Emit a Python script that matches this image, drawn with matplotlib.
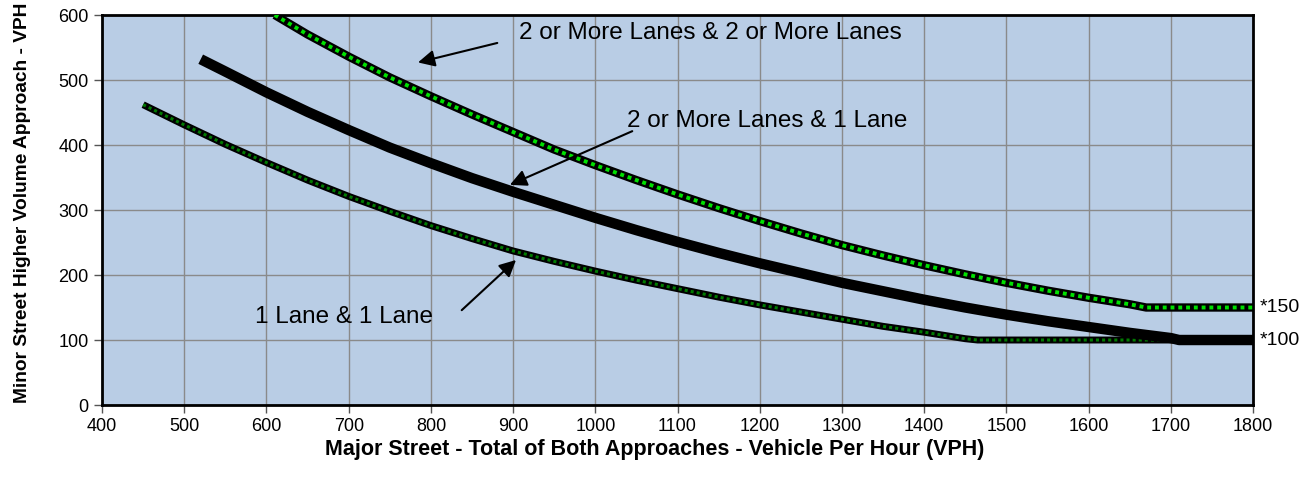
import numpy as np
import matplotlib
matplotlib.use("Agg")
import matplotlib.pyplot as plt

plt.rcParams["font.family"] = ["Liberation Sans", "DejaVu Sans"]

# major street volume (VPH) / minor street volume (VPH)
one_one_x = [450, 500, 550, 600, 650, 700, 750, 800, 850, 900, 950, 1000, 1050, 1100,
             1150, 1200, 1250, 1300, 1350, 1400, 1450, 1465, 1800]
one_one_y = [462, 431, 401, 373, 346, 321, 298, 276, 256, 237, 221, 206, 192, 179,
             166, 154, 143, 132, 121, 112, 102, 100, 100]

two_one_x = [520, 550, 600, 650, 700, 750, 800, 850, 900, 950, 1000, 1050, 1100, 1150,
             1200, 1250, 1300, 1350, 1400, 1450, 1500, 1550, 1600, 1650, 1700, 1710, 1800]
two_one_y = [532, 513, 481, 451, 423, 396, 372, 349, 328, 308, 288, 269, 251, 234,
             218, 203, 188, 175, 162, 150, 139, 129, 120, 111, 103, 100, 100]

two_two_x = [610, 650, 700, 750, 800, 850, 900, 950, 1000, 1050, 1100, 1150, 1200, 1250,
             1300, 1350, 1400, 1450, 1500, 1550, 1600, 1650, 1670, 1800]
two_two_y = [600, 570, 536, 504, 475, 447, 420, 393, 369, 346, 324, 303, 283, 264,
             246, 230, 215, 201, 188, 176, 165, 155, 150, 150]

x_ticks = list(range(400, 1801, 100))
y_ticks = list(range(0, 601, 100))

fig = plt.figure(figsize=(13.15, 4.84), dpi=100)
ax = fig.add_axes([0.0776, 0.1632, 0.8753, 0.8058])
ax.set_facecolor("#B9CDE5")

ax.plot(one_one_x, one_one_y, color="black", lw=5, solid_capstyle="butt", zorder=3)
ax.plot(one_one_x, one_one_y, color="#007A00", lw=2.2, dashes=(1.0, 1.0), zorder=4)

ax.plot(two_one_x, two_one_y, color="black", lw=7.5, solid_capstyle="butt", zorder=5)

ax.plot(two_two_x, two_two_y, color="black", lw=6, solid_capstyle="butt", zorder=6)
ax.plot(two_two_x, two_two_y, color="#00E000", lw=2.8, dashes=(1.0, 1.0), zorder=7)

ax.set_xlim(400, 1800)
ax.set_ylim(0, 600)
ax.set_xticks(x_ticks)
ax.set_yticks(y_ticks)
ax.tick_params(labelsize=13, length=6, width=1, color="#555555", direction="out")
ax.grid(True, color="#8A8A8A", lw=1)
ax.set_axisbelow(True)
for s in ax.spines.values():
    s.set_linewidth(2)
    s.set_color("black")

ax.set_xlabel("Major Street - Total of Both Approaches - Vehicle Per Hour (VPH)",
              fontsize=15.5, fontweight="bold")
ax.xaxis.set_label_coords(0.48, -0.088)
ax.set_ylabel("Minor Street Higher Volume Approach - VPH",
              fontsize=13.8, fontweight="bold")
ax.yaxis.set_label_coords(-0.062, 0.518)

arrow = dict(arrowstyle="-|>", color="black", lw=1.5, mutation_scale=25)
ax.annotate("", xy=(781, 526), xytext=(884, 558), arrowprops=arrow, zorder=10)
ax.text(907, 563, "2 or More Lanes & 2 or More Lanes", fontsize=17.5, va="baseline", ha="left")
ax.annotate("", xy=(893, 337), xytext=(1048, 423), arrowprops=arrow, zorder=10)
ax.text(1039, 428, "2 or More Lanes & 1 Lane", fontsize=17.5, va="baseline", ha="left")
ax.annotate("", xy=(906, 226), xytext=(835, 143), arrowprops=arrow, zorder=10)
ax.text(803, 126, "1 Lane & 1 Lane", fontsize=17.5, va="baseline", ha="right")

ax.text(1808, 150, "*150", fontsize=14, va="center", ha="left")
ax.text(1808, 100, "*100", fontsize=14, va="center", ha="left")

fig.savefig("out.png", dpi=100)
